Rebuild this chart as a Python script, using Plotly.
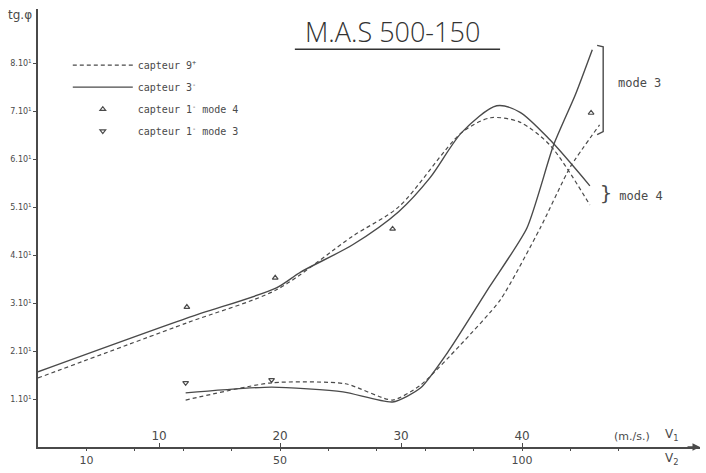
import plotly.graph_objects as go

# ---- data (V1 in m/s, tg phi in units of 10^1) ----
v1_c3_m4 = [0.0, 12.3, 19.7, 21.7, 26.0, 29.8, 32.4, 35.0, 37.9, 39.8, 42.3, 45.6]
tg_c3_m4 = [1.57, 2.69, 3.32, 3.65, 4.22, 4.91, 5.62, 6.56, 7.12, 6.99, 6.41, 5.45]

v1_c9_m4 = [0.0, 12.3, 19.7, 26.0, 29.8, 35.0, 37.4, 39.8, 42.3, 45.6]
tg_c9_m4 = [1.44, 2.59, 3.28, 4.40, 5.01, 6.56, 6.87, 6.78, 6.30, 5.05]

v1_c3_m3 = [12.2, 19.3, 25.2, 29.3, 31.6, 34.0, 37.3, 40.4, 42.6, 44.4, 45.8]
tg_c3_m3 = [1.13, 1.25, 1.15, 0.94, 1.23, 2.03, 3.34, 4.57, 6.30, 7.35, 8.29]

v1_c9_m3 = [12.2, 19.3, 25.4, 29.3, 31.6, 34.9, 38.2, 41.5, 44.0, 46.4]
tg_c9_m3 = [0.98, 1.34, 1.32, 0.98, 1.29, 2.13, 3.07, 4.57, 5.85, 6.72]

v1_c1_m4 = [12.3, 19.6, 29.3, 45.7]
tg_c1_m4 = [2.92, 3.53, 4.55, 6.97]

v1_c1_m3 = [12.2, 19.3]
tg_c1_m3 = [1.34, 1.40]

y_ticks = [1, 2, 3, 4, 5, 6, 7, 8]
y_tick_text = [f"{v}.10<sup>1</sup>" for v in y_ticks]
v1_ticks = [10, 20, 30, 40]
v2_ticks = [10, 20, 30, 40, 50, 60, 70, 80, 90, 100, 110, 120]
v2_tick_text = ["10", "", "", "", "50", "", "", "", "", "100", "", ""]

INK = "#4a4a4a"
FONT = "DejaVu Sans"

fig = go.Figure()
fig.add_trace(go.Scatter(x=v1_c9_m4, y=tg_c9_m4, mode="lines", name="capteur 9<sup>+</sup>",
                         legendgroup="a",
                         line=dict(color=INK, width=1.2, dash="4px,3px", shape="spline", smoothing=0.8)))
fig.add_trace(go.Scatter(x=v1_c3_m4, y=tg_c3_m4, mode="lines", name="capteur 3<sup>-</sup>",
                         legendgroup="b",
                         line=dict(color=INK, width=1.4, shape="spline", smoothing=0.8)))
fig.add_trace(go.Scatter(x=v1_c1_m4, y=tg_c1_m4, mode="markers", name="capteur 1<sup>-</sup> mode 4",
                         legendgroup="c",
                         marker=dict(symbol="triangle-up-open", size=5, color=INK, line=dict(width=1.2))))
fig.add_trace(go.Scatter(x=v1_c1_m3, y=tg_c1_m3, mode="markers", name="capteur 1<sup>-</sup> mode 3",
                         legendgroup="d",
                         marker=dict(symbol="triangle-down-open", size=5, color=INK, line=dict(width=1.2))))
fig.add_trace(go.Scatter(x=v1_c9_m3, y=tg_c9_m3, mode="lines", showlegend=False, legendgroup="a",
                         line=dict(color=INK, width=1.2, dash="4px,3px", shape="spline", smoothing=0.6)))
fig.add_trace(go.Scatter(x=v1_c3_m3, y=tg_c3_m3, mode="lines", showlegend=False, legendgroup="b",
                         line=dict(color=INK, width=1.4, shape="spline", smoothing=0.6)))
# V2 scale carrier
fig.add_trace(go.Scatter(x=v2_ticks, y=[None] * len(v2_ticks), xaxis="x2", mode="lines",
                         showlegend=False, hoverinfo="skip"))

X_MAX = 54.7
fig.update_layout(
    width=706, height=473,
    margin=dict(l=38, r=6, t=9, b=26),
    paper_bgcolor="white", plot_bgcolor="white",
    font=dict(family=FONT, color=INK),
    showlegend=True,
    legend=dict(x=0.045, y=0.905, xanchor="left", yanchor="top", bgcolor="rgba(0,0,0,0)",
                font=dict(family="DejaVu Sans Mono", size=10, color=INK), itemwidth=60,
                tracegroupgap=3),
    xaxis=dict(range=[0, X_MAX], showgrid=False, zeroline=False, showline=True, linecolor=INK,
               linewidth=1.5, tickvals=v1_ticks, ticks="inside", ticklen=4, tickcolor=INK,
               ticklabelposition="inside", tickfont=dict(size=12, color=INK)),
    xaxis2=dict(range=[0, X_MAX * 2.5], overlaying="x", side="bottom", showgrid=False,
                zeroline=False, showline=False, tickvals=v2_ticks, ticktext=v2_tick_text,
                ticks="outside", ticklen=3, tickcolor=INK, tickfont=dict(size=11, color=INK)),
    yaxis=dict(range=[0, 9.14], showgrid=False, zeroline=False, showline=True, linecolor=INK,
               linewidth=1.5, tickvals=y_ticks, ticktext=y_tick_text, ticks="outside",
               ticklen=3, tickcolor=INK, tickfont=dict(size=8, color=INK)),
)

annotations = [
    dict(text="M.A.S 500-150", x=0.535, y=0.949, xref="paper", yref="paper", showarrow=False,
         font=dict(size=27, family="Open Sans", weight=300, color="#333"),
         xanchor="center", yanchor="middle"),
    dict(text="tg.φ", x=-0.027, y=0.986, xref="paper", yref="paper", showarrow=False,
         font=dict(size=12, color=INK), xanchor="center", yanchor="middle"),
    dict(text="mode 3", x=47.8, y=7.6, xref="x", yref="y", showarrow=False, xanchor="left",
         font=dict(size=12, family="DejaVu Sans Mono", color=INK)),
    dict(text="<span style='font-size:20px'>}</span> mode 4", x=46.3, y=5.3, xref="x", yref="y",
         showarrow=False, xanchor="left", font=dict(size=12, family="DejaVu Sans Mono", color=INK)),
    dict(text="(m./s.)", x=49.1, y=0.05, xref="x", yref="y", showarrow=False, xanchor="center",
         yanchor="bottom", font=dict(size=11, color=INK)),
    dict(text="V<sub>1</sub>", x=0.958, y=0.005, xref="paper", yref="paper", showarrow=False,
         xanchor="center", yanchor="bottom", font=dict(size=12, color=INK)),
    dict(text="V<sub>2</sub>", x=0.958, y=-0.005, xref="paper", yref="paper", showarrow=False,
         xanchor="center", yanchor="top", font=dict(size=12, color=INK)),
    dict(x=1.0, y=0, xref="paper", yref="paper", ax=-14, ay=0, text="", showarrow=True,
         arrowhead=2, arrowsize=1, arrowwidth=1.5, arrowcolor=INK),
]
fig.update_layout(annotations=annotations)

shapes = [
    dict(type="line", xref="paper", yref="paper", x0=0.388, x1=0.698, y0=0.908, y1=0.908,
         line=dict(color="#333", width=1.5)),
    dict(type="path", xref="x", yref="y",
         path="M 46.2 8.38 L 46.7 8.35 L 46.7 6.58 L 46.2 6.52",
         line=dict(color=INK, width=1.4)),
]
fig.update_layout(shapes=shapes)

fig.write_html("out.html")
